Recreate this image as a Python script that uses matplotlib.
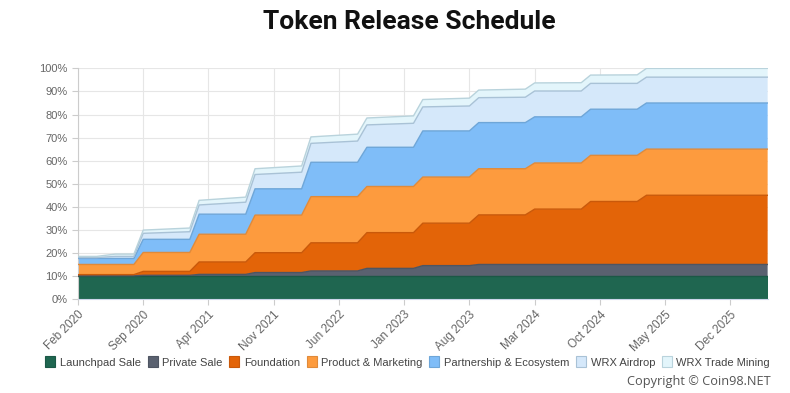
import numpy as np
import matplotlib
matplotlib.use("Agg")
import matplotlib.pyplot as plt
from matplotlib.patches import Patch

# months since Feb 2020 where the curves bend (start / end of each half-year step)
months = [0, 2, 4, 6, 7, 12, 13, 18, 19, 24, 25, 30, 31, 36, 37, 42, 43, 48, 49, 54, 55, 60, 61, 74]

launchpad = [10, 10, 10, 10, 10, 10, 10, 10, 10, 10, 10, 10, 10, 10, 10, 10, 10, 10, 10, 10, 10, 10, 10, 10]
private = [0.1, 0.1, 0.1, 0.1, 0.3, 0.3, 0.7, 0.7, 1.5, 1.5, 2.2, 2.2, 3.3, 3.3, 4.5, 4.5, 5, 5, 5, 5, 5, 5, 5, 5]
foundation = [0.5, 0.5, 0.5, 0.5, 1.7, 1.7, 5.4, 5.4, 8.6, 8.6, 12.2, 12.2, 15.5, 15.5, 18.4, 18.4,
              21.5, 21.5, 24, 24, 27.3, 27.3, 30, 30]
product = [4.4, 4.4, 4.4, 4.4, 8.2, 8.2, 12, 12, 16.3, 16.3, 20, 20, 20, 20, 20, 20, 20, 20, 20, 20, 20, 20, 20, 20]
partnership = [2.6, 2.6, 2.6, 2.6, 5.7, 5.7, 8.7, 8.7, 11.4, 11.4, 14.9, 14.9, 17, 17, 20, 20,
               20, 20, 20, 20, 20, 20, 20, 20]
airdrop = [0.4, 0.4, 0.9, 0.9, 2.6, 3.3, 4.0, 5.2, 6.2, 7.2, 8.2, 9.2, 9.7, 10.4, 10.4, 10.8,
           10.8, 11.0, 11.2, 11.2, 11.2, 11.2, 11.2, 11.2]
trade_mining = [0.5, 0.5, 1.0, 1.0, 1.4, 1.6, 2.0, 2.2, 2.5, 2.7, 2.8, 3.0, 3.0, 3.2, 3.2, 3.4,
                3.3, 3.5, 3.5, 3.6, 3.6, 3.7, 3.8, 3.8]

names = ["Launchpad Sale", "Private Sale", "Foundation", "Product & Marketing",
         "Partnership & Ecosystem", "WRX Airdrop", "WRX Trade Mining"]
colors = ["#1f6650", "#5a6170", "#e36408", "#fd9b3e", "#7fbdf8", "#d5e8fa", "#e3f5fb"]
line_colors = ["#1b5846", "#4e5562", "#c9590a", "#e08a3a", "#6ea6d8", "#a9c2d6", "#b9d3dc"]

tick_pos = [0, 7, 14, 21, 28, 35, 42, 49, 56, 63, 70]
tick_labels = ["Feb 2020", "Sep 2020", "Apr 2021", "Nov 2021", "Jun 2022", "Jan 2023",
               "Aug 2023", "Mar 2024", "Oct 2024", "May 2025", "Dec 2025"]

series = [launchpad, private, foundation, product, partnership, airdrop, trade_mining]

fig = plt.figure(figsize=(7.9, 3.93), dpi=100)
ax = fig.add_axes([0.0987, 0.239, 0.873, 0.587])

ax.stackplot(months, *series, colors=colors, linewidth=0, zorder=2)
tops = np.cumsum(np.array(series, dtype=float), axis=0)
for top, lc in zip(tops, line_colors):
    ax.plot(months, top, color=lc, lw=1.0, zorder=3)

ax.set_xlim(0, 74)
ax.set_ylim(0, 100)
ax.set_yticks(range(0, 101, 10))
ax.set_yticklabels([f"{v}%" for v in range(0, 101, 10)])
ax.set_xticks(tick_pos)
ax.set_xticklabels(tick_labels, rotation=45, ha="right", rotation_mode="anchor")

ax.grid(True, color="#e6e6e6", lw=0.8, zorder=0)
ax.set_axisbelow(True)
for side in ["top", "right"]:
    ax.spines[side].set_visible(False)
ax.spines["left"].set_color("#cccccc")
ax.spines["bottom"].set_color("#ccd6eb")
ax.tick_params(axis="both", colors="#cccccc", length=4, width=0.8)
ax.tick_params(axis="both", labelcolor="#666666", labelsize=8)
ax.tick_params(axis="x", labelsize=8.5, pad=3)
for lab in ax.get_xticklabels() + ax.get_yticklabels():
    lab.set_family("Liberation Sans")

fig.text(0.518, 0.945, "Token Release Schedule", ha="center", va="center",
         fontsize=19, fontweight="bold", family="Roboto", color="#111111")

handles = [Patch(facecolor=c, edgecolor=lc, lw=0.8) for c, lc in zip(colors, line_colors)]
fig.legend(handles, names, loc="center", bbox_to_anchor=(0.516, 0.079), ncol=7, frameon=False,
           prop={"family": "Liberation Sans", "size": 8}, labelcolor="#444444",
           handlelength=0.9, handleheight=1.1, handletextpad=0.4, columnspacing=0.62)

fig.text(0.975, 0.03, "Copyright \u00a9 Coin98.NET", ha="right", va="center",
         fontsize=9.2, family="Open Sans", color="#555555")

fig.savefig("out.png", dpi=100)
